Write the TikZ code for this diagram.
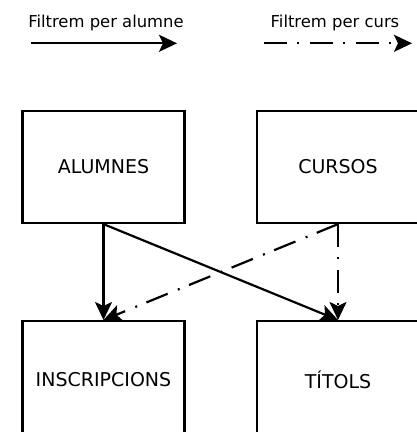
\documentclass[tikz,border=0pt]{standalone}
\usepackage{fontspec}
\setmainfont{DejaVu Sans}
\usetikzlibrary{arrows.meta}
\tikzset{
  entity/.style={draw=black, line width=2.2pt, minimum width=162pt, inner sep=0pt,
    font=\fontsize{19pt}{22pt}\selectfont},
  legendtext/.style={font=\fontsize{16.4pt}{19pt}\selectfont, anchor=base, inner sep=0pt},
  flow/.style={line width=2.2pt, -{Stealth[length=18pt, width=17pt, inset=4pt]}},
  flowcurs/.style={flow, dash pattern=on 23pt off 10pt on 2pt off 11pt},
}
\begin{document}
\begin{tikzpicture}[x=1pt, y=1pt]
\useasboundingbox (0,0) rectangle (417,-432);
\clip (0,0) rectangle (417,-432);
% legend
\node[legendtext] (la) at (106,-27) {Filtrem per alumne};
\node[legendtext] (lc) at (335,-27) {Filtrem per curs};
\coordinate (la1) at (31,-43.3);
\coordinate (la2) at (177,-43.3);
\coordinate (lc1) at (264,-43.3);
\coordinate (lc2) at (412,-43.3);
\draw[flow] (la1) -- (la2);
\draw[flowcurs] (lc1) -- (lc2);
% boxes
\node[entity, minimum height=112pt] (alu) at (103.5,-167) {ALUMNES};
\node[entity, minimum height=112pt] (cur) at (338,-167) {CURSOS};
\node[entity, minimum height=117pt, anchor=north] (ins) at (103.5,-320) {INSCRIPCIONS};
\node[entity, minimum height=117pt, anchor=north] (tit) at (338,-320) {TÍTOLS};
% connectors
\draw[flow] (alu.south) -- (ins.north);
\draw[flow] (alu.south) -- (tit.north);
\draw[flowcurs] (cur.south) -- (ins.north);
\draw[flowcurs] (cur.south) -- (tit.north);
\end{tikzpicture}
\end{document}
